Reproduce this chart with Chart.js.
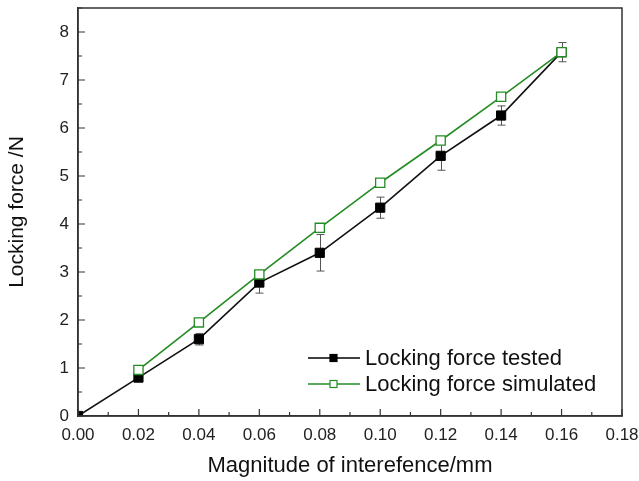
<!DOCTYPE html>
<html>
<head>
<meta charset="utf-8">
<script src="https://cdn.jsdelivr.net/npm/chart.js@4/dist/chart.umd.min.js"></script>
<style>
html,body{margin:0;padding:0;background:#fff;}
#wrap{width:639px;height:481px;}
</style>
</head>
<body>
<div id="wrap"><canvas id="c" width="639" height="481"></canvas></div>
<script>
const interference = [0, 0.02, 0.04, 0.06, 0.08, 0.10, 0.12, 0.14, 0.16];
const forceTested = [0, 0.80, 1.60, 2.78, 3.40, 4.34, 5.42, 6.26, 7.58];
const forceTestedErr = [0, 0.05, 0.12, 0.22, 0.38, 0.22, 0.30, 0.20, 0.20];
const forceSimulated = [null, 0.96, 1.95, 2.95, 3.92, 4.86, 5.74, 6.65, 7.58];
const seriesNames = ['Locking force tested', 'Locking force simulated'];
const xTitle = 'Magnitude of interefence/mm';
const yTitle = 'Locking force /N';

const FONT = "'Liberation Sans', Arial, sans-serif";
const GREEN = '#248c24';

const toPts = (ys) => interference.map((x, i) => ({x: x, y: ys[i]}));

const framePlugin = {
  id: 'frame',
  beforeDatasetsDraw(chart) {
    const ctx = chart.ctx, xs = chart.scales.x, ys = chart.scales.y;
    ctx.save();
    ctx.strokeStyle = '#555';
    ctx.lineWidth = 1;
    interference.forEach((x, i) => {
      const e = forceTestedErr[i];
      if (!e) return;
      const px = Math.round(xs.getPixelForValue(x)) + 0.5;
      const top = ys.getPixelForValue(forceTested[i] + e);
      const bot = ys.getPixelForValue(forceTested[i] - e);
      ctx.beginPath();
      ctx.moveTo(px, top); ctx.lineTo(px, bot);
      ctx.moveTo(px - 4, top); ctx.lineTo(px + 4, top);
      ctx.moveTo(px - 4, bot); ctx.lineTo(px + 4, bot);
      ctx.stroke();
    });
    ctx.restore();
  },
  afterDraw(chart) {
    const ctx = chart.ctx, a = chart.chartArea, xs = chart.scales.x, ys = chart.scales.y;
    ctx.save();
    ctx.strokeStyle = '#333';
    ctx.lineWidth = 1.5;
    ctx.strokeRect(a.left, a.top, a.right - a.left, a.bottom - a.top);
    ctx.lineWidth = 1.2;
    ctx.beginPath();
    for (let k = 0; k <= 18; k++) {
      const px = xs.getPixelForValue(k * 0.01);
      const len = (k % 2 === 0) ? 7 : 4;
      ctx.moveTo(px, a.bottom); ctx.lineTo(px, a.bottom - len);
    }
    for (let k = 0; k <= 17; k++) {
      const py = ys.getPixelForValue(k * 0.5);
      const len = (k % 2 === 0) ? 7 : 4;
      ctx.moveTo(a.left, py); ctx.lineTo(a.left + len, py);
    }
    ctx.stroke();

    const items = [
      {name: seriesNames[0], color: '#000', fill: '#000', y: 358},
      {name: seriesNames[1], color: GREEN, fill: '#fff', y: 384}
    ];
    ctx.font = '22px ' + FONT;
    ctx.textBaseline = 'middle';
    items.forEach(it => {
      ctx.strokeStyle = it.color;
      ctx.lineWidth = 1.5;
      ctx.beginPath();
      ctx.moveTo(308, it.y); ctx.lineTo(360, it.y);
      ctx.stroke();
      ctx.fillStyle = it.fill;
      ctx.fillRect(330, it.y - 3.5, 7, 7);
      ctx.lineWidth = 1.2;
      ctx.strokeRect(330, it.y - 3.5, 7, 7);
      ctx.fillStyle = '#111';
      ctx.fillText(it.name, 365, it.y + 1);
    });
    ctx.restore();
  }
};

new Chart(document.getElementById('c'), {
  type: 'line',
  data: {
    datasets: [
      {
        label: seriesNames[1],
        data: toPts(forceSimulated),
        borderColor: GREEN,
        backgroundColor: '#fff',
        borderWidth: 1.6,
        pointStyle: 'rect',
        pointRadius: 6.5,
        pointBorderWidth: 1.3,
        pointBorderColor: GREEN,
        pointBackgroundColor: '#fff',
        tension: 0
      },
      {
        label: seriesNames[0],
        data: toPts(forceTested),
        borderColor: '#111',
        backgroundColor: '#000',
        borderWidth: 1.6,
        pointStyle: 'rect',
        pointRadius: 6.5,
        pointBorderWidth: 1,
        pointBorderColor: '#000',
        pointBackgroundColor: '#000',
        tension: 0
      }
    ]
  },
  options: {
    responsive: false,
    animation: false,
    devicePixelRatio: 1,
    layout: {padding: {top: 8, right: 17, left: 0, bottom: 0}},
    plugins: {legend: {display: false}, tooltip: {enabled: false}},
    scales: {
      x: {
        type: 'linear',
        min: 0, max: 0.18,
        grid: {display: false, drawTicks: false},
        border: {display: true, color: '#333', width: 1.5},
        ticks: {
          stepSize: 0.02,
          padding: 9,
          color: '#222',
          font: {family: FONT, size: 17},
          maxRotation: 0,
          callback: (v) => v.toFixed(2)
        },
        title: {display: true, text: xTitle, color: '#111', font: {family: FONT, size: 22}, padding: {top: 2, bottom: 2}},
        afterFit: (s) => { s.height = 65; s.paddingLeft = 0; s.paddingRight = 0; }
      },
      y: {
        type: 'linear',
        min: 0, max: 8.5,
        grid: {display: false, drawTicks: false},
        border: {display: true, color: '#333', width: 1.5},
        afterBuildTicks: (s) => { s.ticks = s.ticks.filter(t => Number.isInteger(t.value)); },
        ticks: {
          stepSize: 1,
          padding: 9,
          color: '#222',
          font: {family: FONT, size: 17},
          callback: (v) => String(v)
        },
        title: {display: true, text: yTitle, color: '#111', font: {family: FONT, size: 21}, padding: {top: 5, bottom: 5}},
        afterFit: (s) => { s.width = 78; s.paddingTop = 0; s.paddingBottom = 0; }
      }
    }
  },
  plugins: [framePlugin]
});
</script>
</body>
</html>
